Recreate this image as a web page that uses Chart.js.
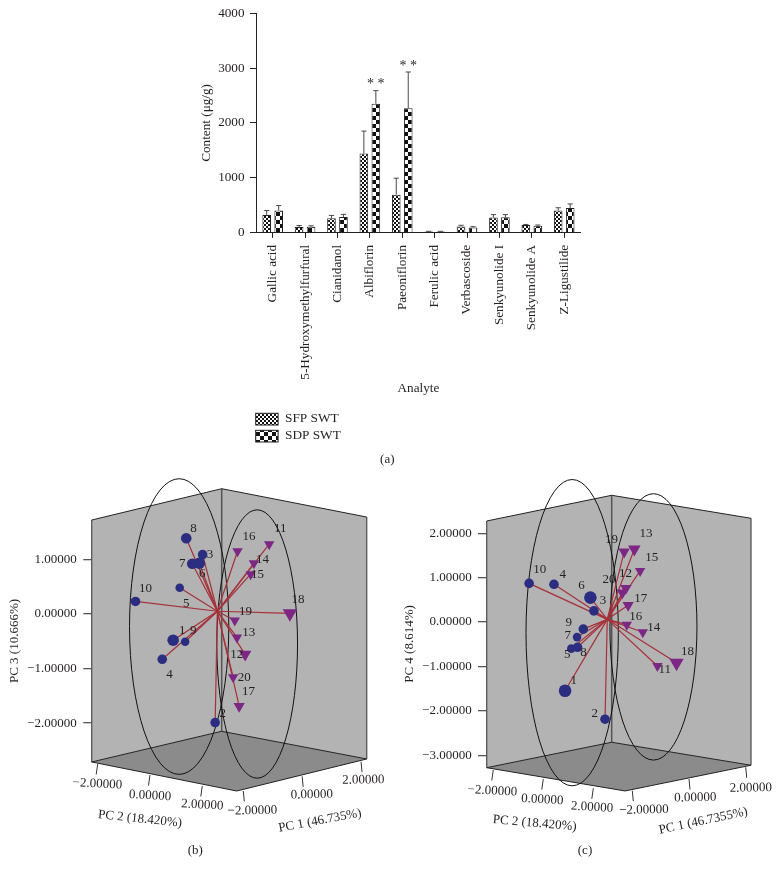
<!DOCTYPE html>
<html><head><meta charset="utf-8">
<style>html,body{margin:0;padding:0;background:#fff;width:779px;height:877px;overflow:hidden}canvas{position:absolute;left:0;top:0}</style>
<script src="https://cdn.jsdelivr.net/npm/chart.js@4"></script>
</head><body>
<canvas id="a" width="779" height="877"></canvas>
<canvas id="b" width="779" height="877"></canvas>
<canvas id="c" width="779" height="877"></canvas>
<script>
// ---------- panel (a) data ----------
const categories = ["Gallic acid","5-Hydroxymethylfurfural","Cianidanol","Albiflorin","Paeoniflorin","Ferulic acid","Verbascoside","Senkyunolide I","Senkyunolide A","Z-Ligustilide"];
const sfpValues = [320,100,260,1440,690,15,110,270,135,400];
const sdpValues = [400,105,280,2350,2270,15,90,275,120,445];
const sfpErrors = [80,25,50,410,300,5,20,55,10,50];
const sdpErrors = [90,15,50,240,660,5,15,50,15,75];
const starredCategories = [3,4];
const seriesNames = ["SFP SWT","SDP SWT"];
const contentTicks = [0,1000,2000,3000,4000];

// ---------- panel (b) data: projected horizontal position, PC 3 ----------
const bLabels = [1,2,3,4,5,6,7,8,9,10,11,12,13,14,15,16,17,18,19,20];
const bX = [-0.89,-0.12,-0.35,-1.09,-0.77,-0.41,-0.54,-0.65,-0.67,-1.58,0.87,0.43,0.28,0.59,0.53,0.29,0.32,1.25,0.24,0.21];
const bY = [-0.48,-1.99,1.09,-0.83,0.48,0.93,0.92,1.39,-0.51,0.23,1.28,-0.74,-0.43,0.93,0.73,1.15,-1.69,0.01,-0.12,-1.16];
const bTicks = [-2,-1,0,1];
const bOrigin = [-0.08,0.05];

// ---------- panel (c) data: projected horizontal position, PC 4 ----------
const cLabels = [1,2,3,4,5,6,7,8,9,10,11,12,13,14,15,16,17,18,19,20];
const cX = [-1.05,-0.15,-0.40,-1.30,-0.91,-0.48,-0.78,-0.77,-0.64,-1.86,1.03,0.32,0.51,0.70,0.64,0.34,0.37,1.46,0.28,0.24];
const cY = [-1.55,-2.19,0.25,0.85,-0.60,0.55,-0.34,-0.57,-0.16,0.87,-0.99,0.76,1.64,-0.23,1.15,-0.06,0.38,-0.92,1.58,0.66];
const cTicks = [-3,-2,-1,0,1,2];
const cOrigin = [-0.10,0.06];

const floorTicks = [-2,0,2];

// ---------- styling / layout ----------
const SERIF = '"Liberation Serif", serif';
const INK = '#231f20';
const layoutB = {
  area:{left:91.7,right:372,top:500,bottom:782}, xr:[-2.383,2.755], yr:[-3.08,2.09], titleLeft:3,
  yTitle:'PC 3 (10.666%)', tickLen:8.4, tickPad:6.6,
  radii:[5.8,4.8,4.8,4.8,4.3,5.8,5.3,5.3,4.3,4.8,6,7.2,6,6,6,6,6.5,8.3,6,6],
  off:[[9,-10],[7.7,-9],[7.3,0],[7.3,15.7],[6.6,15.7],[3,10.7],[-10,-0.7],[7.3,-9.7],[8,-11.3],[10,-12.7],[11,-15.3],[-8.3,0],[11.7,-5],[8.7,-4],[7,0.7],[11.4,-15],[9.3,-14.3],[8,-13.6],[10.6,-8.7],[11,0]],
  ell:[[-0.78,-0.23,0.91,2.71],[0.65,-0.55,0.74,2.46]],
  TL:[-2.383,1.723],TOP:[0,2.297],TR:[2.658,1.778],BL:[-2.383,-2.713],BACK:[0,-2.150],BR:[2.658,-2.658],FRONT:[0.275,-3.245],
  pc2:[[-2.273,-2.750],[-0.356,-3.153]], pc1:[[0.396,-3.245],[2.554,-2.708]],
  pc2Text:[[97.3,784],[150,795.7],[202.3,805]], pc1Text:[[252.3,810.7],[311.7,794.7],[363.3,780]],
  titles:[['PC 2 (18.420%)',140,819,6],['PC 1 (46.735%)',320,820.7,-10.5]],
  caption:['(b)',195.3,851], origin:bOrigin, xs:bX, ys:bY, labels:bLabels, ticks:bTicks
};
const layoutC = {
  area:{left:486.7,right:770,top:510,bottom:778}, xr:[-2.815,3.565], yr:[-3.514,2.523], titleLeft:397.5,
  yTitle:'PC 4 (8.614%)', tickLen:8.7, tickPad:6.3,
  radii:[6.3,4.8,4.8,4.8,4.3,6.3,4.3,4.8,4.8,4.8,6,6.6,7.2,6,6,6,6.5,8.3,6.6,6.6],
  off:[[8.7,-10],[-10.3,-5.3],[9,-10.7],[8.7,-9.3],[-4,5.6],[-9,-12],[-9.3,-1.3],[6,5.7],[-14.6,-6.6],[10.7,-13.6],[7.4,4],[-0.4,-14.6],[11.7,-15.6],[11,-4.3],[11.7,-13.7],[9,-8],[12.7,-6.3],[11,-11.7],[-12.6,-12.4],[-13.3,-13]],
  ell:[[-0.89,-0.24,1.04,3.45],[0.94,-0.11,0.98,3.0]],
  TL:[-2.815,2.275],TOP:[0,2.854],TR:[3.137,2.336],BL:[-2.815,-3.282],BACK:[0,-2.709],BR:[3.137,-3.227],FRONT:[0.300,-3.806],
  pc2:[[-2.667,-3.333],[-0.414,-3.745]], pc1:[[0.464,-3.800],[3.018,-3.273]],
  pc2Text:[[492.3,791],[542.3,799.7],[592,807.3]], pc1Text:[[644,810],[695.3,797.7],[750.7,788]],
  titles:[['PC 2 (18.420%)',534.7,823.3,5],['PC 1 (46.7355%)',703.3,821,-12]],
  caption:['(c)',585,851], origin:cOrigin, xs:cX, ys:cY, labels:cLabels, ticks:cTicks
};

Chart.defaults.animation = false;
Chart.defaults.devicePixelRatio = 1;
Chart.defaults.font.family = SERIF;
Chart.defaults.color = INK;

function checker(cell){
  const t=document.createElement('canvas'); t.width=t.height=cell*2;
  const g=t.getContext('2d'); g.fillStyle='#fff'; g.fillRect(0,0,cell*2,cell*2);
  g.fillStyle='#111'; g.fillRect(0,0,cell,cell); g.fillRect(cell,cell,cell,cell);
  return g.canvas;
}
function pattern(cell){ return document.getElementById('a').getContext('2d').createPattern(checker(cell),'repeat'); }
const fineFill = pattern(2), coarseFill = pattern(4);

function fmtPC(v){ const s=Math.abs(v).toFixed(5); return v<0?'\u2212'+s:s; }
function put(ctx,text,x,y,size,rot,align){
  ctx.save(); ctx.translate(x,y); if(rot) ctx.rotate(rot*Math.PI/180);
  ctx.font=size+'px '+SERIF; ctx.fillStyle=INK; ctx.textAlign=align||'center'; ctx.textBaseline='middle';
  ctx.fillText(text,0,0); ctx.restore();
}

// ---------- panel (a) ----------
const barExtras = {
  id:'barExtras',
  afterDatasetsDraw(chart){
    const ctx=chart.ctx, y=chart.scales.y;
    [sfpErrors,sdpErrors].forEach((errs,d)=>{
      const meta=chart.getDatasetMeta(d), vals=d?sdpValues:sfpValues;
      errs.forEach((e,i)=>{
        const x=meta.data[i].x, top=y.getPixelForValue(vals[i]+e), base=y.getPixelForValue(vals[i]);
        ctx.save(); ctx.strokeStyle='#4a4a4a'; ctx.lineWidth=1;
        ctx.beginPath(); ctx.moveTo(x,base); ctx.lineTo(x,top); ctx.moveTo(x-2.6,top); ctx.lineTo(x+2.6,top); ctx.stroke(); ctx.restore();
      });
    });
    const m=chart.getDatasetMeta(1);
    starredCategories.forEach(i=>{
      put(ctx,'* *',m.data[i].x,y.getPixelForValue(sdpValues[i]+sdpErrors[i])-6,14);
    });
    // legend
    [[fineFill,413.3,419],[coarseFill,430.3,436]].forEach((r,i)=>{
      ctx.fillStyle=r[0]; ctx.fillRect(255.7,r[1],22.4,11.7);
      ctx.strokeStyle='#222'; ctx.lineWidth=1; ctx.strokeRect(255.7,r[1],22.4,11.7);
      put(ctx,seriesNames[i],285,r[2],13.3,0,'left');
    });
    put(ctx,'(a)',387.3,460,13);
  }
};
new Chart(document.getElementById('a'),{
  type:'bar',
  data:{labels:categories,datasets:[
    {label:seriesNames[0],data:sfpValues,backgroundColor:fineFill,borderColor:'#222',borderWidth:1,categoryPercentage:0.74,barPercentage:0.72},
    {label:seriesNames[1],data:sdpValues,backgroundColor:coarseFill,borderColor:'#222',borderWidth:1,categoryPercentage:0.74,barPercentage:0.72}
  ]},
  options:{
    responsive:false, events:[],
    layout:{padding:{left:195,right:198.6,top:12.7,bottom:476.2}},
    plugins:{legend:{display:false},tooltip:{enabled:false}},
    scales:{
      x:{grid:{offset:false,drawOnChartArea:false,tickLength:5.5,color:'#222'},border:{color:'#222'},
         ticks:{minRotation:90,maxRotation:90,autoSkip:false,padding:7,font:{size:13.2},color:INK},
         title:{display:true,text:'Analyte',font:{size:13.2},color:INK},
         afterFit(s){s.height=168.4}},
      y:{min:0,max:4000,grid:{drawOnChartArea:false,tickLength:6.5,color:'#222'},border:{color:'#222'},
         afterBuildTicks(s){s.ticks=contentTicks.map(v=>({value:v}))},
         ticks:{padding:5.5,font:{size:13.2},color:INK,callback:v=>String(v)},
         title:{display:true,text:'Content (\u03bcg/g)',font:{size:13.2},color:INK},
         afterFit(s){s.width=61.5}}
    }
  },
  plugins:[barExtras]
});

// ---------- panels (b), (c) ----------
function make3D(id,L){
  const P=(c,p)=>[c.scales.x.getPixelForValue(p[0]),c.scales.y.getPixelForValue(p[1])];
  const box={
    id:'box3d',
    beforeDatasetsDraw(c){
      const ctx=c.ctx;
      const poly=(pts,fill)=>{ctx.beginPath();pts.forEach((p,i)=>{const q=P(c,p);i?ctx.lineTo(q[0],q[1]):ctx.moveTo(q[0],q[1])});ctx.closePath();ctx.fillStyle=fill;ctx.fill();};
      const seg=(a,b,col,w)=>{const p=P(c,a),q=P(c,b);ctx.beginPath();ctx.moveTo(p[0],p[1]);ctx.lineTo(q[0],q[1]);ctx.strokeStyle=col;ctx.lineWidth=w;ctx.stroke();};
      ctx.save();
      poly([L.TL,L.TOP,L.BACK,L.BL],'#b3b3b3');
      poly([L.TOP,L.TR,L.BR,L.BACK],'#b3b3b3');
      poly([L.BL,L.BACK,L.BR,L.FRONT],'#8b8b8b');
      seg(L.TOP,L.BACK,'#555',1.5);
      seg(L.TL,L.BL,'#555',1.3); seg(L.TR,L.BR,'#555',1.3);
      seg(L.TL,L.TOP,'#222',1); seg(L.TOP,L.TR,'#222',1);
      seg(L.BL,L.BACK,'#222',1); seg(L.BACK,L.BR,'#222',1);
      seg(L.BL,L.FRONT,'#222',1); seg(L.FRONT,L.BR,'#222',1);
      // ellipses
      L.ell.forEach(e=>{
        const q=P(c,[e[0],e[1]]);
        const rx=Math.abs(c.scales.x.getPixelForValue(e[0]+e[2])-q[0]), ry=Math.abs(c.scales.y.getPixelForValue(e[1]+e[3])-q[1]);
        ctx.beginPath();ctx.ellipse(q[0],q[1],rx,ry,0,0,Math.PI*2);ctx.strokeStyle='#111';ctx.lineWidth=1;ctx.stroke();
      });
      ctx.restore();
    },
    afterDatasetsDraw(c){
      const ctx=c.ctx;
      // floor axis ticks and text
      [[L.pc2,L.pc2Text,-1.5],[L.pc1,L.pc1Text,1]].forEach(a=>{
        floorTicks.forEach((v,i)=>{
          const t=(v+2)/4, u=[a[0][0][0]+(a[0][1][0]-a[0][0][0])*t, a[0][0][1]+(a[0][1][1]-a[0][0][1])*t], q=P(c,u);
          ctx.save();ctx.strokeStyle='#333';ctx.lineWidth=1;ctx.beginPath();ctx.moveTo(q[0],q[1]);ctx.lineTo(q[0]+a[2],q[1]+10.5);ctx.stroke();ctx.restore();
          put(ctx,fmtPC(v),a[1][i][0],a[1][i][1],13,a[2]<0?3:-1);
        });
      });
      L.titles.forEach(t=>put(ctx,t[0],t[1],t[2],13,t[3]));
      put(ctx,L.caption[0],L.caption[1],L.caption[2],13);
      L.labels.forEach((n,i)=>{
        const q=P(c,[L.xs[i],L.ys[i]]);
        put(ctx,String(n),q[0]+L.off[i][0],q[1]+L.off[i][1],13);
      });
    }
  };
  const pts=L.labels.map((_,i)=>({x:L.xs[i],y:L.ys[i]}));
  const datasets=[
    {data:pts.slice(0,10),showLine:false,pointStyle:'circle',pointRadius:L.radii.slice(0,10),backgroundColor:'#2b2e80',borderWidth:0,pointBorderWidth:0,clip:false},
    {data:pts.slice(10),showLine:false,pointStyle:'triangle',pointRotation:180,pointRadius:L.radii.slice(10),backgroundColor:'#7c2783',borderWidth:0,pointBorderWidth:0,clip:false}
  ];
  pts.forEach(p=>datasets.push({data:[{x:L.origin[0],y:L.origin[1]},p],showLine:true,pointRadius:0,borderColor:'#a5303a',borderWidth:1.2,clip:false}));
  new Chart(document.getElementById(id),{
    type:'scatter',
    data:{datasets},
    options:{
      responsive:false, events:[],
      layout:{padding:{left:L.titleLeft,right:779-L.area.right,top:L.area.top,bottom:877-L.area.bottom}},
      plugins:{legend:{display:false},tooltip:{enabled:false}},
      scales:{
        x:{display:false,min:L.xr[0],max:L.xr[1]},
        y:{min:L.yr[0],max:L.yr[1],
           grid:{drawOnChartArea:false,tickLength:L.tickLen,color:'#555',lineWidth:1.3},border:{display:false},
           afterBuildTicks(s){s.ticks=L.ticks.map(v=>({value:v}))},
           ticks:{padding:L.tickPad,font:{size:13},color:INK,callback:v=>fmtPC(v)},
           title:{display:true,text:L.yTitle,font:{size:13},color:INK},
           afterFit(s){s.width=L.area.left-L.titleLeft}}
      }
    },
    plugins:[box]
  });
}
make3D('b',layoutB);
make3D('c',layoutC);
</script>
</body></html>
